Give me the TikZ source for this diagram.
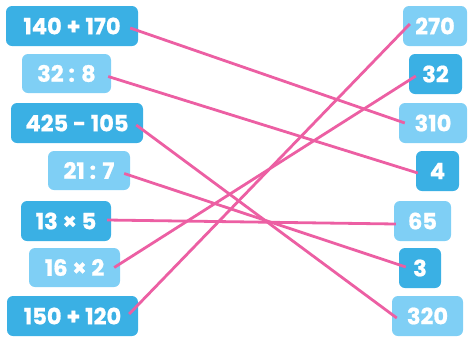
\documentclass[tikz,border=0pt]{standalone}
\usepackage{fontspec}
\setmainfont{Poppins}
\newfontfamily\boxfont{Poppins Bold}[FakeBold=0.8]
\usepackage{xcolor}
\definecolor{DarkSky}{RGB}{58,176,228}
\definecolor{LightSky}{RGB}{127,207,245}
\definecolor{Pink}{RGB}{236,95,163}
\definecolor{White}{RGB}{255,255,255}
\usepackage{tikz}

\begin{document}
\begin{tikzpicture}[x=1pt, y=-1pt,
		darkbox/.style={fill=DarkSky, rounded corners=6pt, text=White, font=\fontsize{22.5}{22.5}\selectfont\boxfont, minimum height=40pt, inner sep=0pt},
		lightbox/.style={darkbox, fill=LightSky},
		link/.style={draw=Pink, line width=2.8pt}]
		
		\useasboundingbox (0,0) rectangle (468,338);
		
		% Left column
		\node[darkbox, minimum width=132pt] (l1) at (72,26) {140 + 170};
		\node[lightbox, minimum width=89pt, minimum height=39pt] (l2) at (66.5,73.5) {32 : 8};
		\node[darkbox, minimum width=132pt] (l3) at (77,123) {425 - 105};
		\node[lightbox, minimum width=82pt, minimum height=39pt] (l4) at (89,170.5) {21 : 7};
		\node[darkbox, minimum width=90pt] (l5) at (66,221) {13 × 5};
		\node[lightbox, minimum width=91pt, minimum height=39pt] (l6) at (74.5,267.5) {16 × 2};
		\node[darkbox, minimum width=131pt] (l7) at (72.5,316) {150 + 120};
		
		% Right column
		\node[lightbox, minimum width=64pt] (r1) at (435,26) {270};
		\node[darkbox, minimum width=53pt] (r2) at (435.5,74) {32};
		\node[lightbox, minimum width=68pt] (r3) at (433,123) {310};
		\node[darkbox, minimum width=43pt] (r4) at (437.5,171) {4};
		\node[lightbox, minimum width=57pt] (r5) at (422.5,221) {65};
		\node[darkbox, minimum width=42pt] (r6) at (420,268) {3};
		\node[lightbox, minimum width=71pt] (r7) at (427.5,316) {320};
		
		% Lines
		\draw[link] ([xshift=-8pt, yshift=-2pt]l1.east) -- ([xshift=6pt]r3.west);
		\draw[link] ([xshift=-3pt, yshift=-3pt]l2.east) -- ([xshift=2pt, yshift=-2pt]r4.west);
		\draw[link] ([xshift=-7pt, yshift=-2pt]l3.east) -- ([xshift=5pt, yshift=-2pt]r7.west);
		\draw[link] ([xshift=-6pt, yshift=-3pt]l4.east) -- ([xshift=7pt, yshift=1pt]r6.west);
		\draw[link] ([xshift=-4pt, yshift=1pt]l5.east) -- ([xshift=2pt, yshift=-3pt]r5.west);
		\draw[link] ([xshift=-6pt]l6.east) -- ([xshift=7pt, yshift=-2pt]r2.west);
		\draw[link] ([xshift=-9pt, yshift=2pt]l7.east) -- ([xshift=7pt, yshift=2pt]r1.west);
		
	\end{tikzpicture}
\end{document}
